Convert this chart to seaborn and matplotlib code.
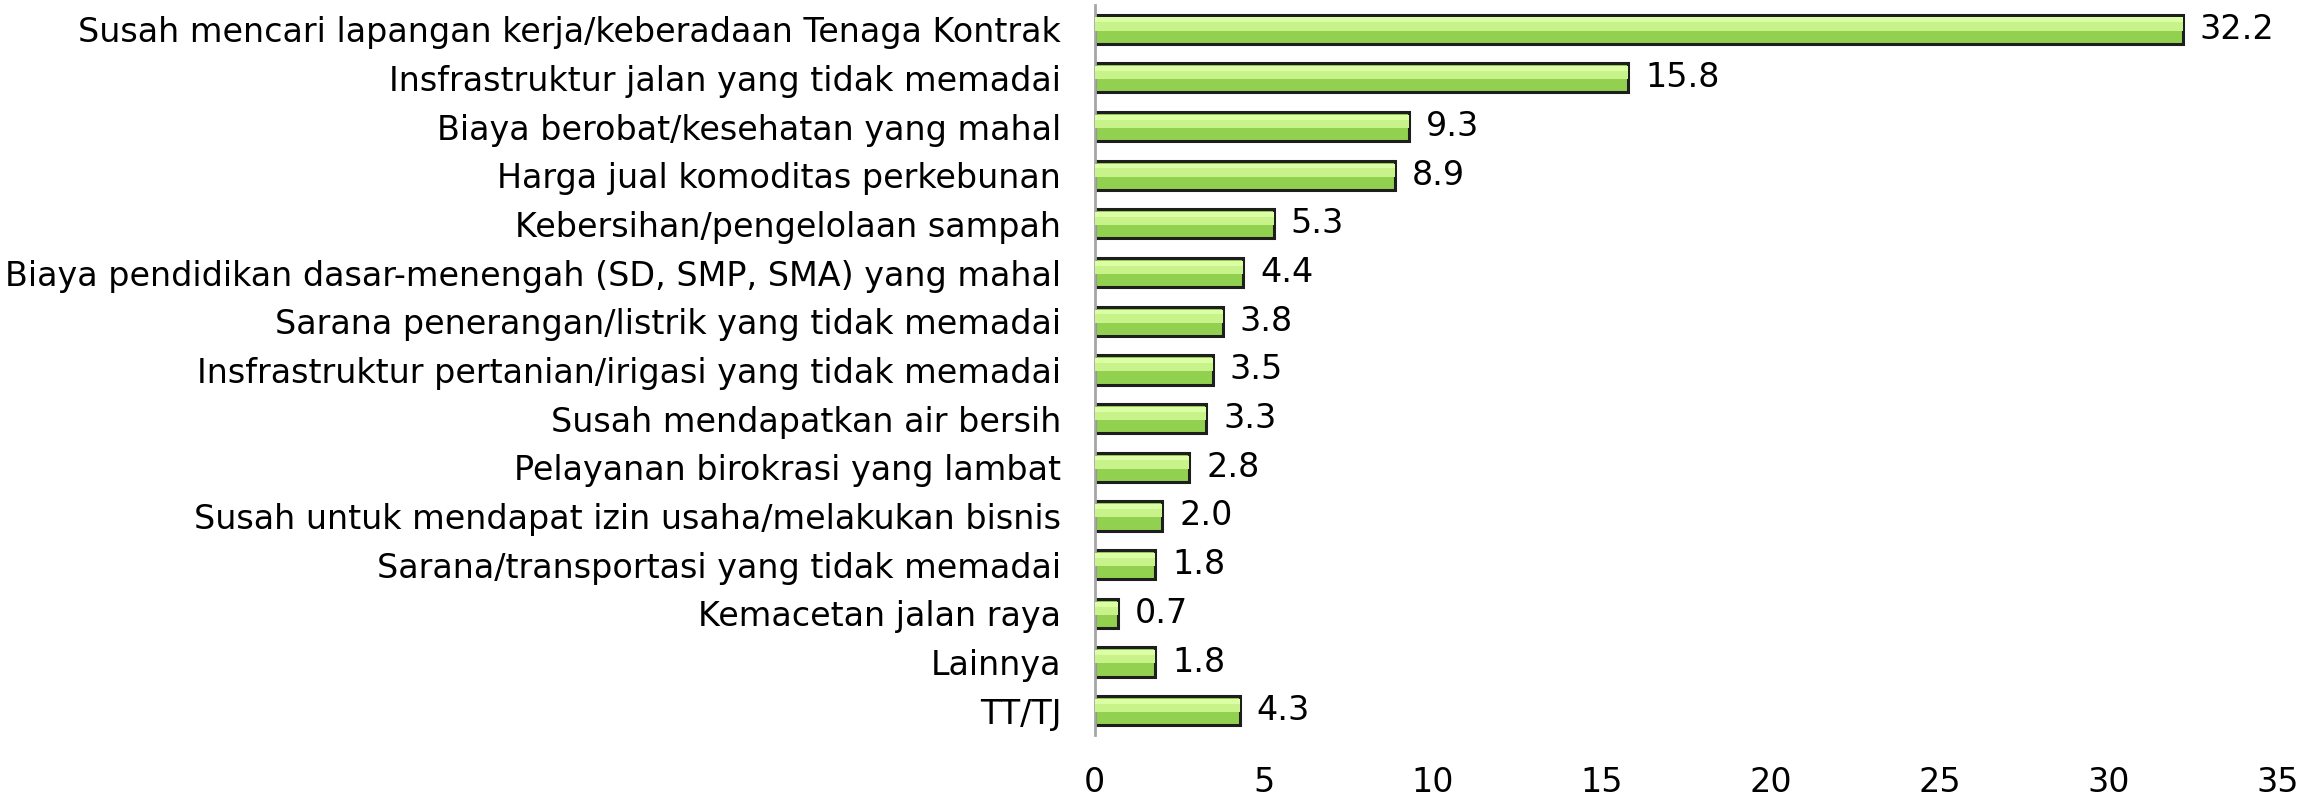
import pandas as pd
import numpy as np
import matplotlib.pyplot as plt
import seaborn as sns

# categories and percentages
categories = [
    "Susah mencari lapangan kerja/keberadaan Tenaga Kontrak",
    "Insfrastruktur jalan yang tidak memadai",
    "Biaya berobat/kesehatan yang mahal",
    "Harga jual komoditas perkebunan",
    "Kebersihan/pengelolaan sampah",
    "Biaya pendidikan dasar-menengah (SD, SMP, SMA) yang mahal",
    "Sarana penerangan/listrik yang tidak memadai",
    "Insfrastruktur pertanian/irigasi yang tidak memadai",
    "Susah mendapatkan air bersih",
    "Pelayanan birokrasi yang lambat",
    "Susah untuk mendapat izin usaha/melakukan bisnis",
    "Sarana/transportasi yang tidak memadai",
    "Kemacetan jalan raya",
    "Lainnya",
    "TT/TJ",
]
values = [32.2, 15.8, 9.3, 8.9, 5.3, 4.4, 3.8, 3.5, 3.3, 2.8, 2.0, 1.8, 0.7, 1.8, 4.3]
xticks = [0, 5, 10, 15, 20, 25, 30, 35]

df = pd.DataFrame({"kategori": categories, "persen": values})

sns.set_style("white")
plt.rcParams['font.family'] = ['DejaVu Sans']

fig = plt.figure(figsize=(23.19, 8.02), dpi=100)
ax = fig.add_axes([0.472, 0.0835, 0.51, 0.9105])

sns.barplot(data=df, y="kategori", x="persen", orient="h", color="#92d050",
            saturation=1, width=0.6, edgecolor="#1e1e1e", linewidth=2.2, ax=ax)

# lighter top part to mimic the bevel/gradient look
pos = np.arange(len(values))
ax.barh(pos - 0.1, values, height=0.26, color="#c8f28a", linewidth=0, zorder=3)
ax.barh(pos - 0.19, values, height=0.1, color="#dcffa6", linewidth=0, zorder=3)

for i, v in enumerate(values):
    ax.text(v + 0.5, i, f"{v:.1f}", va="center", ha="left", fontsize=24, color="black")

ax.set_xlim(0, 35)
ax.set_ylim(len(values) - 0.5, -0.5)
ax.set_xticks(xticks)
ax.set_xlabel("")
ax.set_ylabel("")
ax.tick_params(axis="x", length=0, pad=22, labelsize=24, labelcolor="black")
ax.tick_params(axis="y", length=0, pad=24, labelsize=24, labelcolor="black")

for s in ["top", "right", "bottom"]:
    ax.spines[s].set_visible(False)
ax.spines["left"].set_color("#a6a6a6")
ax.spines["left"].set_linewidth(2)

fig.savefig("out.png", dpi=100)
